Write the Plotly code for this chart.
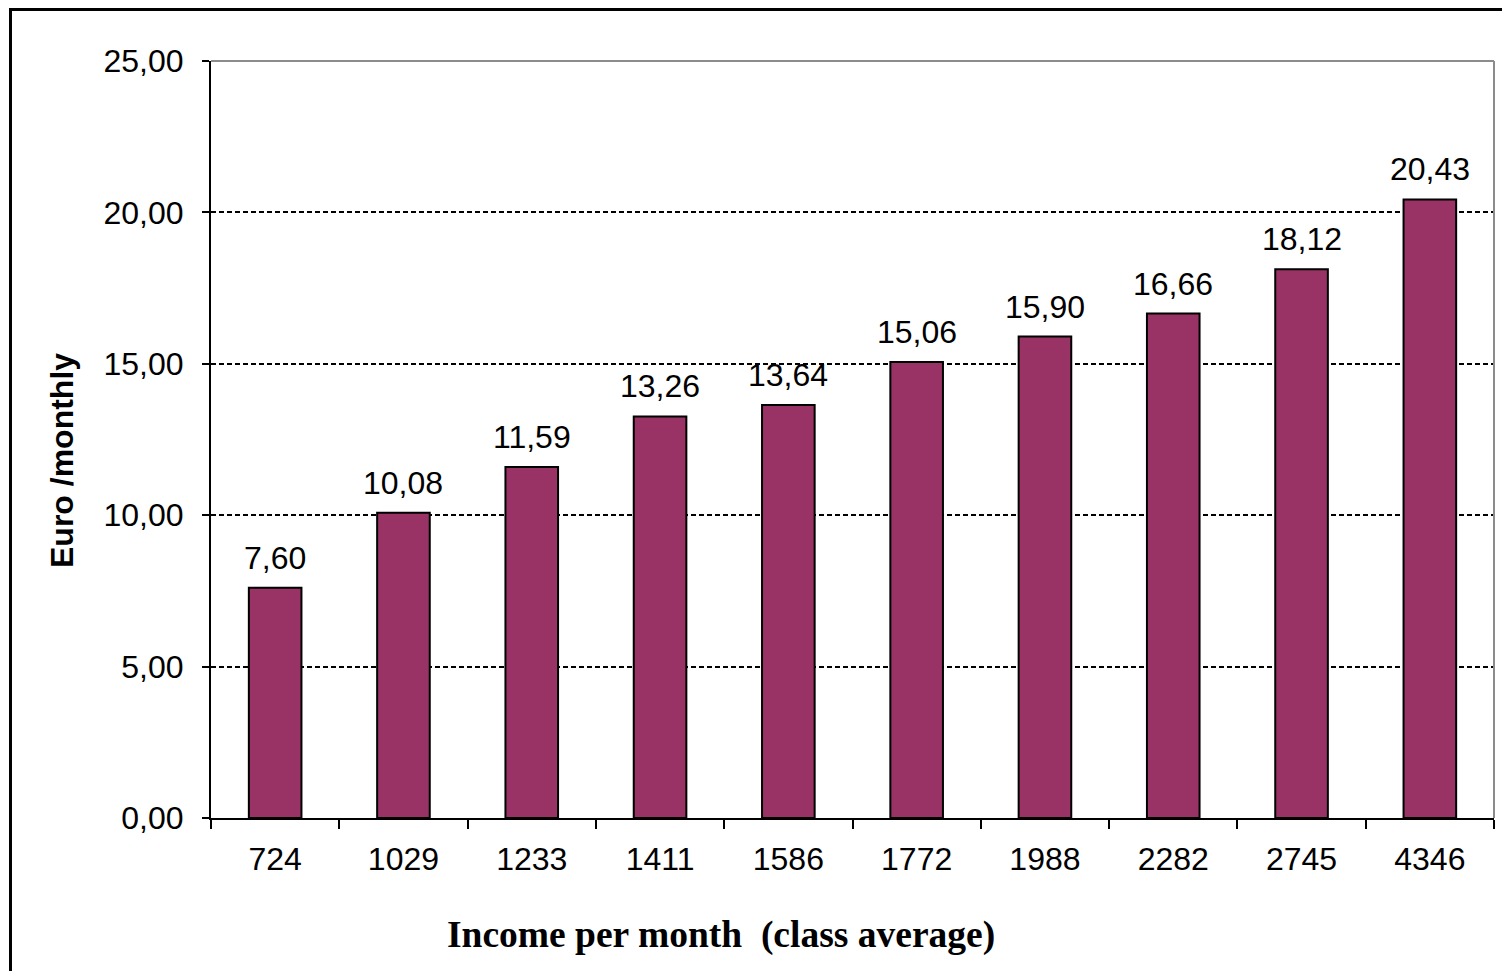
import plotly.graph_objects as go

categories = ["724", "1029", "1233", "1411", "1586", "1772", "1988", "2282", "2745", "4346"]
values = [7.60, 10.08, 11.59, 13.26, 13.64, 15.06, 15.90, 16.66, 18.12, 20.43]
y_ticks = [0, 5, 10, 15, 20, 25]

# page body has an 8px margin; work in page pixels and offset
OFF = 8
W, H = 1510 - OFF, 971 - OFF
L, R, T, B = 211 - OFF, 16, 61 - OFF, 971 - 818
pw, ph = W - L - R, H - T - B

def px_x(p):  # page pixel -> paper
    return (p - OFF - L) / pw

def px_y(p):
    return 1 - (p - OFF - T) / ph

fig = go.Figure()
fig.add_trace(go.Bar(
    x=categories, y=values, width=0.41,
    marker=dict(color="#993366", line=dict(color="black", width=2)),
    hoverinfo="skip",
))

for i, v in enumerate(values):
    fig.add_annotation(
        x=i, y=v, xref="x", yref="y", text=f"{v:.2f}".replace(".", ","),
        showarrow=False, yanchor="bottom", yshift=10,
        font=dict(family="Liberation Sans, Arial", size=32, color="black"),
    )

fig.add_annotation(
    x=px_x(721), y=px_y(935), xref="paper", yref="paper",
    text="<b>Income per month \u00a0(class average)</b>", showarrow=False,
    xanchor="center", yanchor="middle",
    font=dict(family="Liberation Serif, Times New Roman", size=37.5, color="black"),
)
fig.add_annotation(
    x=px_x(62), y=px_y(461), xref="paper", yref="paper",
    text="<b>Euro /monthly</b>", showarrow=False, textangle=-90,
    xanchor="center", yanchor="middle",
    font=dict(family="Liberation Sans, Arial", size=32, color="black"),
)

shapes = [
    dict(type="line", xref="paper", yref="paper", x0=0, x1=1, y0=1, y1=1,
         line=dict(color="#8c8c8c", width=2)),
    dict(type="line", xref="paper", yref="paper", x0=1, x1=1, y0=0, y1=1,
         line=dict(color="#8c8c8c", width=2)),
    dict(type="line", xref="paper", yref="paper", x0=px_x(10.5), x1=px_x(10.5),
         y0=px_y(1000), y1=px_y(8), line=dict(color="black", width=3)),
    dict(type="line", xref="paper", yref="paper", x0=px_x(10), x1=px_x(1540),
         y0=px_y(9.5), y1=px_y(9.5), line=dict(color="black", width=3)),
]

fig.update_layout(
    width=W, height=H,
    margin=dict(l=L, r=R, t=T, b=B, autoexpand=False),
    paper_bgcolor="white", plot_bgcolor="white",
    separators=",.",
    showlegend=False,
    shapes=shapes,
    font=dict(family="Liberation Sans, Arial", size=32, color="black"),
)
fig.update_xaxes(
    type="category", range=[-0.5, len(categories) - 0.5],
    showline=True, linecolor="black", linewidth=2,
    ticks="outside", tickson="boundaries", ticklen=9, tickwidth=2, tickcolor="black",
    showgrid=False, ticklabelstandoff=12,
    tickfont=dict(family="Liberation Sans, Arial", size=32, color="black"),
)
fig.update_yaxes(
    range=[0, 25], tickvals=y_ticks, tickformat=".2f",
    showline=True, linecolor="black", linewidth=2,
    ticks="outside", ticklen=7, tickwidth=2, tickcolor="black",
    showgrid=True, gridcolor="black", gridwidth=1.5, griddash="5px,3px",
    zeroline=False, ticklabelstandoff=12,
    tickfont=dict(family="Liberation Sans, Arial", size=32, color="black"),
)

fig.write_html("out.html")
